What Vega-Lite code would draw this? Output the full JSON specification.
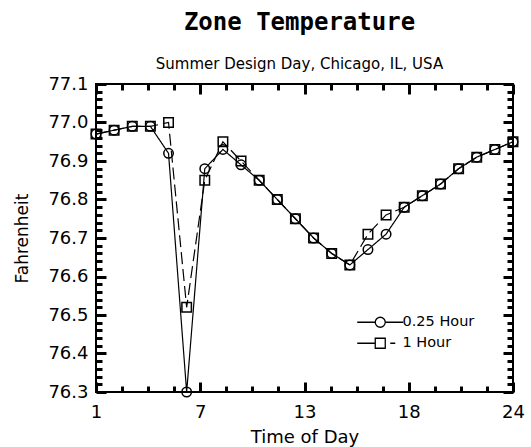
{
  "$schema": "https://vega.github.io/schema/vega-lite/v6.json",
  "width": 417,
  "height": 308,
  "autosize": "none",
  "padding": {"left": 96, "top": 84, "right": 18, "bottom": 55},
  "background": "white",
  "config": {"view": {"stroke": "black", "strokeWidth": 2}, "font": "DejaVu Sans"},
  "title": {
    "text": "Zone Temperature",
    "subtitle": "Summer Design Day, Chicago, IL, USA",
    "font": "DejaVu Sans Mono",
    "fontSize": 24,
    "fontWeight": "bold",
    "color": "black",
    "subtitleFont": "DejaVu Sans",
    "subtitleFontSize": 15,
    "subtitleColor": "black",
    "subtitlePadding": 22,
    "offset": 3,
    "anchor": "middle",
    "dx": -5
  },
  "data": {
    "values": [
      {"hour": 1, "temp": 76.97, "series": "0.25 Hour"},
      {"hour": 2, "temp": 76.98, "series": "0.25 Hour"},
      {"hour": 3, "temp": 76.99, "series": "0.25 Hour"},
      {"hour": 4, "temp": 76.99, "series": "0.25 Hour"},
      {"hour": 5, "temp": 76.92, "series": "0.25 Hour"},
      {"hour": 6, "temp": 76.30, "series": "0.25 Hour"},
      {"hour": 7, "temp": 76.88, "series": "0.25 Hour"},
      {"hour": 8, "temp": 76.93, "series": "0.25 Hour"},
      {"hour": 9, "temp": 76.89, "series": "0.25 Hour"},
      {"hour": 10, "temp": 76.85, "series": "0.25 Hour"},
      {"hour": 11, "temp": 76.80, "series": "0.25 Hour"},
      {"hour": 12, "temp": 76.75, "series": "0.25 Hour"},
      {"hour": 13, "temp": 76.70, "series": "0.25 Hour"},
      {"hour": 14, "temp": 76.66, "series": "0.25 Hour"},
      {"hour": 15, "temp": 76.63, "series": "0.25 Hour"},
      {"hour": 16, "temp": 76.67, "series": "0.25 Hour"},
      {"hour": 17, "temp": 76.71, "series": "0.25 Hour"},
      {"hour": 18, "temp": 76.78, "series": "0.25 Hour"},
      {"hour": 19, "temp": 76.81, "series": "0.25 Hour"},
      {"hour": 20, "temp": 76.84, "series": "0.25 Hour"},
      {"hour": 21, "temp": 76.88, "series": "0.25 Hour"},
      {"hour": 22, "temp": 76.91, "series": "0.25 Hour"},
      {"hour": 23, "temp": 76.93, "series": "0.25 Hour"},
      {"hour": 24, "temp": 76.95, "series": "0.25 Hour"},
      {"hour": 1, "temp": 76.97, "series": "1 Hour"},
      {"hour": 2, "temp": 76.98, "series": "1 Hour"},
      {"hour": 3, "temp": 76.99, "series": "1 Hour"},
      {"hour": 4, "temp": 76.99, "series": "1 Hour"},
      {"hour": 5, "temp": 77.00, "series": "1 Hour"},
      {"hour": 6, "temp": 76.52, "series": "1 Hour"},
      {"hour": 7, "temp": 76.85, "series": "1 Hour"},
      {"hour": 8, "temp": 76.95, "series": "1 Hour"},
      {"hour": 9, "temp": 76.90, "series": "1 Hour"},
      {"hour": 10, "temp": 76.85, "series": "1 Hour"},
      {"hour": 11, "temp": 76.80, "series": "1 Hour"},
      {"hour": 12, "temp": 76.75, "series": "1 Hour"},
      {"hour": 13, "temp": 76.70, "series": "1 Hour"},
      {"hour": 14, "temp": 76.66, "series": "1 Hour"},
      {"hour": 15, "temp": 76.63, "series": "1 Hour"},
      {"hour": 16, "temp": 76.71, "series": "1 Hour"},
      {"hour": 17, "temp": 76.76, "series": "1 Hour"},
      {"hour": 18, "temp": 76.78, "series": "1 Hour"},
      {"hour": 19, "temp": 76.81, "series": "1 Hour"},
      {"hour": 20, "temp": 76.84, "series": "1 Hour"},
      {"hour": 21, "temp": 76.88, "series": "1 Hour"},
      {"hour": 22, "temp": 76.91, "series": "1 Hour"},
      {"hour": 23, "temp": 76.93, "series": "1 Hour"},
      {"hour": 24, "temp": 76.95, "series": "1 Hour"}
    ]
  },
  "layer": [
    {
      "mark": {"type": "line", "color": "black", "strokeWidth": 1.2},
      "encoding": {
        "x": {
          "field": "hour", "type": "quantitative",
          "scale": {"domain": [1, 24], "nice": false, "zero": false},
          "axis": {
            "orient": "bottom", "values": [1, 6.75, 12.5, 18.25, 24], "format": ".0f",
            "grid": false, "domain": false, "tickSize": 0, "tickColor": "black", "tickWidth": 3,
            "labelFont": "DejaVu Sans", "labelFontSize": 18, "labelColor": "black", "labelPadding": 11, "labelFlush": false,
            "title": "Time of Day", "titleFont": "DejaVu Sans", "titleFontSize": 18, "titleFontWeight": "normal", "titleColor": "black", "titlePadding": 7
          }
        },
        "y": {
          "field": "temp", "type": "quantitative",
          "scale": {"domain": [76.3, 77.1], "nice": false, "zero": false},
          "axis": {
            "orient": "left", "values": [76.3, 76.4, 76.5, 76.6, 76.7, 76.8, 76.9, 77.0, 77.1], "format": ".1f",
            "grid": false, "domain": false, "tickSize": 0, "tickColor": "black", "tickWidth": 3,
            "labelFont": "DejaVu Sans", "labelFontSize": 18, "labelColor": "black", "labelPadding": 8,
            "title": "Fahrenheit", "titleFont": "DejaVu Sans", "titleFontSize": 17, "titleFontWeight": "normal", "titleColor": "black", "titlePadding": 16
          }
        },
        "strokeDash": {
          "field": "series", "type": "nominal",
          "scale": {"domain": ["0.25 Hour", "1 Hour"], "range": [[1, 0], [12, 5]]},
          "legend": null
        }
      }
    },
    {
      "mark": {"type": "point", "filled": false, "size": 90, "strokeWidth": 1.5, "color": "black", "opacity": 1},
      "encoding": {
        "x": {
          "field": "hour", "type": "quantitative",
          "scale": {"domain": [1, 24], "nice": false, "zero": false},
          "axis": {"orient": "top", "values": [1, 6.75, 12.5, 18.25, 24], "labels": false, "grid": false, "domain": false, "offset": -10, "tickSize": 10, "tickColor": "black", "tickWidth": 3, "title": null}
        },
        "y": {
          "field": "temp", "type": "quantitative",
          "scale": {"domain": [76.3, 77.1], "nice": false, "zero": false},
          "axis": {"orient": "right", "values": [76.3, 76.4, 76.5, 76.6, 76.7, 76.8, 76.9, 77.0, 77.1], "labels": false, "grid": false, "domain": false, "offset": -10, "tickSize": 10, "tickColor": "black", "tickWidth": 3, "title": null}
        },
        "shape": {
          "field": "series", "type": "nominal",
          "scale": {"domain": ["0.25 Hour", "1 Hour"], "range": ["circle", "square"]},
          "legend": null
        }
      }
    },
    {
      "mark": {"type": "point", "opacity": 0},
      "encoding": {
        "x": {
          "field": "hour", "type": "quantitative",
          "scale": {"domain": [1, 24], "nice": false, "zero": false},
          "axis": {"orient": "bottom", "values": [1, 6.75, 12.5, 18.25, 24], "labels": false, "grid": false, "domain": false, "offset": -10, "tickSize": 10, "tickColor": "black", "tickWidth": 3, "title": null}
        },
        "y": {
          "field": "temp", "type": "quantitative",
          "scale": {"domain": [76.3, 77.1], "nice": false, "zero": false},
          "axis": {"orient": "left", "values": [76.3, 76.4, 76.5, 76.6, 76.7, 76.8, 76.9, 77.0, 77.1], "labels": false, "grid": false, "domain": false, "offset": -10, "tickSize": 10, "tickColor": "black", "tickWidth": 3, "title": null}
        }
      }
    },
    {
      "mark": {"type": "point", "opacity": 0},
      "encoding": {
        "x": {
          "field": "hour", "type": "quantitative",
          "scale": {"domain": [1, 24], "nice": false, "zero": false},
          "axis": {"orient": "bottom", "values": [2.4375, 3.875, 5.3125, 8.1875, 9.625, 11.0625, 13.9375, 15.375, 16.8125, 19.6875, 21.125, 22.5625], "labels": false, "grid": false, "domain": false, "offset": -6, "tickSize": 6, "tickColor": "black", "tickWidth": 3, "title": null}
        },
        "y": {
          "field": "temp", "type": "quantitative",
          "scale": {"domain": [76.3, 77.1], "nice": false, "zero": false},
          "axis": {"orient": "left", "values": [76.32, 76.34, 76.36, 76.38, 76.42, 76.44, 76.46, 76.48, 76.52, 76.54, 76.56, 76.58, 76.62, 76.64, 76.66, 76.68, 76.72, 76.74, 76.76, 76.78, 76.82, 76.84, 76.86, 76.88, 76.92, 76.94, 76.96, 76.98, 77.02, 77.04, 77.06, 77.08], "labels": false, "grid": false, "domain": false, "offset": -6, "tickSize": 6, "tickColor": "black", "tickWidth": 3, "title": null}
        }
      }
    },
    {
      "transform": [{"filter": "datum.hour < 0"}],
      "mark": {"type": "point", "filled": false, "color": "black", "opacity": 1, "strokeWidth": 1.3},
      "encoding": {
        "x": {
          "field": "hour", "type": "quantitative",
          "scale": {"domain": [1, 24], "nice": false, "zero": false},
          "axis": {"orient": "top", "values": [2.4375, 3.875, 5.3125, 8.1875, 9.625, 11.0625, 13.9375, 15.375, 16.8125, 19.6875, 21.125, 22.5625], "labels": false, "grid": false, "domain": false, "offset": -6, "tickSize": 6, "tickColor": "black", "tickWidth": 3, "title": null}
        },
        "y": {
          "field": "temp", "type": "quantitative",
          "scale": {"domain": [76.3, 77.1], "nice": false, "zero": false},
          "axis": {"orient": "right", "values": [76.32, 76.34, 76.36, 76.38, 76.42, 76.44, 76.46, 76.48, 76.52, 76.54, 76.56, 76.58, 76.62, 76.64, 76.66, 76.68, 76.72, 76.74, 76.76, 76.78, 76.82, 76.84, 76.86, 76.88, 76.92, 76.94, 76.96, 76.98, 77.02, 77.04, 77.06, 77.08], "labels": false, "grid": false, "domain": false, "offset": -6, "tickSize": 6, "tickColor": "black", "tickWidth": 3, "title": null}
        },
        "shape": {
          "field": "series", "type": "nominal",
          "scale": {"domain": ["0.25 Hour", "1 Hour"], "range": ["M -4.6 0 L -1 0 M 1 0 L 4.6 0 M 1 0 A 1 1 0 1 1 -1 0 A 1 1 0 1 1 1 0", "M -4.6 0 L -1 0 M -1 -1 L 1 -1 L 1 1 L -1 1 Z M 2 0 L 3 0"]},
          "legend": {
            "orient": "none", "legendX": 277, "legendY": 231, "title": null, "padding": 0,
            "symbolSize": 100, "symbolStrokeColor": "black", "symbolFillColor": "transparent", "symbolStrokeWidth": 1.3, "symbolOpacity": 1,
            "labelFont": "DejaVu Sans", "labelFontSize": 14.5, "labelColor": "black", "labelOffset": 15, "rowPadding": 5
          }
        }
      }
    }
  ],
  "resolve": {"axis": {"x": "independent", "y": "independent"}, "scale": {"shape": "independent"}, "legend": {"strokeDash": "independent", "shape": "independent"}}
}
